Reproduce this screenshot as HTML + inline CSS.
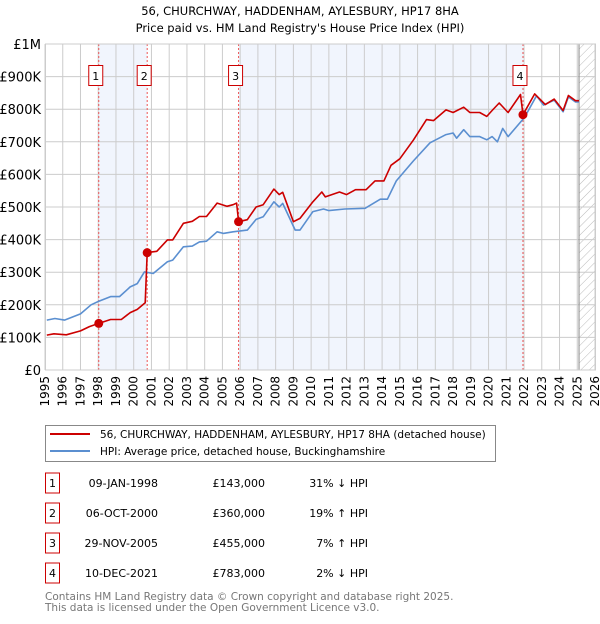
<!DOCTYPE html>
<html><head><meta charset="utf-8"><style>
body{margin:0;background:#fff;font-family:"DejaVu Sans","Liberation Sans",sans-serif;}
svg text{font-family:"DejaVu Sans","Liberation Sans",sans-serif;}
</style></head><body>
<svg id="chart" width="600" height="620" xmlns="http://www.w3.org/2000/svg">
<defs><pattern id="hatch" width="6" height="6" patternUnits="userSpaceOnUse" patternTransform="rotate(45)"><line x1="0" y1="0" x2="0" y2="6" stroke="#bbb" stroke-width="1"/></pattern></defs>
<text x="300" y="15" text-anchor="middle" font-size="11.5">56, CHURCHWAY, HADDENHAM, AYLESBURY, HP17 8HA</text>
<text x="300" y="32" text-anchor="middle" font-size="11.5">Price paid vs. HM Land Registry's House Price Index (HPI)</text>
<g id="plot"></g>
<g>
<rect x="45.5" y="425.5" width="450" height="36" fill="#fff" stroke="#888"/>
<line x1="50" y1="434" x2="90" y2="434" stroke="#cc0000" stroke-width="2"/>
<text x="100" y="438" font-size="10.5">56, CHURCHWAY, HADDENHAM, AYLESBURY, HP17 8HA (detached house)</text>
<line x1="50" y1="451" x2="90" y2="451" stroke="#5b8fd0" stroke-width="2"/>
<text x="100" y="455" font-size="10.5">HPI: Average price, detached house, Buckinghamshire</text>
</g>
<g id="table" font-size="11"></g>
<text x="45" y="600" font-size="10.5" fill="#777">Contains HM Land Registry data © Crown copyright and database right 2025.</text>
<text x="45" y="611" font-size="10.5" fill="#777">This data is licensed under the Open Government Licence v3.0.</text>
</svg>
<script>
const hpiYears=[1995.1,1995.56,1996.1,1997.0,1997.6,1998.0,1998.7,1999.2,1999.8,2000.2,2000.6,2001.1,2001.9,2002.2,2002.8,2003.3,2003.7,2004.1,2004.7,2005.05,2005.6,2006.4,2006.9,2007.3,2007.9,2008.2,2008.4,2009.1,2009.37,2010.1,2010.7,2011.0,2011.9,2013.04,2013.9,2014.3,2014.8,2015.76,2016.7,2017.6,2018.0,2018.2,2018.6,2018.95,2019.5,2019.9,2020.2,2020.5,2020.8,2021.1,2021.9,2022.1,2022.7,2023.1,2023.7,2024.2,2024.5,2024.9,2025.1];
const hpiValues=[153,158,153,172,200,210,225,225,255,265,301,296,332,337,378,380,393,395,424,419,424,429,462,470,516,500,511,429,429,486,494,489,494,496,524,524,580,641,697,722,727,711,737,716,716,706,716,700,741,716,767,782,841,813,828,792,838,822,822];
const priceYears=[1995.1,1995.5,1996.2,1997.0,1997.5,1998.03,1998.7,1999.3,1999.8,2000.2,2000.65,2000.76,2001.3,2001.9,2002.2,2002.8,2003.3,2003.7,2004.1,2004.7,2005.25,2005.6,2005.8,2005.91,2006.4,2006.9,2007.3,2007.9,2008.2,2008.4,2009.0,2009.37,2010.1,2010.6,2010.8,2011.6,2012.0,2012.5,2013.1,2013.6,2014.1,2014.5,2015.0,2015.76,2016.5,2016.9,2017.6,2018.0,2018.6,2018.95,2019.5,2019.9,2020.2,2020.6,2021.1,2021.8,2021.94,2022.6,2023.2,2023.7,2024.2,2024.5,2024.9,2025.1];
const priceValues=[107,111,108,120,133,143,155,155,176,186,206,360,364,399,399,450,456,471,471,512,502,507,512,455,461,500,507,555,538,545,455,465,516,546,531,546,538,553,553,580,580,628,648,705,768,765,798,790,806,790,790,778,796,819,790,845,783,847,814,831,796,842,826,826];
const saleYears=[1998.03,2000.76,2005.91,2021.94];
const saleValues=[143,360,455,783];
const saleLabels=["1","2","3","4"];
const saleDates=["09-JAN-1998","06-OCT-2000","29-NOV-2005","10-DEC-2021"];
const salePrices=["£143,000","£360,000","£455,000","£783,000"];
const saleHpi=["31% ↓ HPI","19% ↑ HPI","7% ↑ HPI","2% ↓ HPI"];
const yTicks=[0,100,200,300,400,500,600,700,800,900,1000];
const yTickLabels=["£0","£100K","£200K","£300K","£400K","£500K","£600K","£700K","£800K","£900K","£1M"];
const xTicks=[1995,1996,1997,1998,1999,2000,2001,2002,2003,2004,2005,2006,2007,2008,2009,2010,2011,2012,2013,2014,2015,2016,2017,2018,2019,2020,2021,2022,2023,2024,2025,2026];

const NS="http://www.w3.org/2000/svg";
const X0=45,X1=595,Y0=370,Y1=44,YR0=1995,YR1=2026;
const xs=y=>X0+(y-YR0)/(YR1-YR0)*(X1-X0);
const ys=v=>Y0-v/1000*(Y0-Y1);
const plot=document.getElementById('plot');
function mk(tag,attrs,parent){const e=document.createElementNS(NS,tag);for(const k in attrs)e.setAttribute(k,attrs[k]);(parent||plot).appendChild(e);return e;}
for(let i=0;i<saleYears.length-1;i+=2){
 const r=mk('rect',{x:xs(saleYears[i]),y:Y1,width:xs(saleYears[i+1])-xs(saleYears[i]),height:Y0-Y1,fill:'#eef3fd',opacity:0.8});
 
 
}
const hatchStart=2025.1;
const hr=mk('rect',{x:xs(hatchStart),y:Y1,width:X1-xs(hatchStart),height:Y0-Y1,fill:'url(#hatch)'});


yTicks.forEach((t,i)=>{
 const l=mk('line',{x1:X0,x2:X1,y1:ys(t),y2:ys(t),stroke:'#ccc','stroke-width':1});
 
 
 const tx=mk('text',{x:X0-4,y:ys(t)+5,'text-anchor':'end','font-size':13});
 tx.textContent=yTickLabels[i];
 
 
});
xTicks.forEach(t=>{
 const l=mk('line',{x1:xs(t),x2:xs(t),y1:Y1,y2:Y0,stroke:'#ccc','stroke-width':1});
 
 
 const tx=mk('text',{x:0,y:0,'text-anchor':'end','font-size':12,transform:`translate(${xs(t)+4},${Y0+6}) rotate(-90)`});
 tx.textContent=t;
 
 
});
const hl=mk('line',{x1:xs(hatchStart),x2:xs(hatchStart),y1:Y1,y2:Y0,stroke:'#888','stroke-width':1});


saleYears.forEach((y,i)=>{
 const l=mk('line',{x1:xs(y),x2:xs(y),y1:Y1,y2:Y0,stroke:'#e55','stroke-width':1,'stroke-dasharray':'2,2'});
 
 
});
function line(xa,va,color,name){
 const d=xa.map((x,i)=>(i?'L':'M')+xs(x).toFixed(1)+','+ys(va[i]).toFixed(1)).join('');
 const p=mk('path',{d:d,fill:'none',stroke:color,'stroke-width':1.6,'stroke-linejoin':'round'});
 
 
}
line(hpiYears,hpiValues,'#5b8fd0','hpi-line');
line(priceYears,priceValues,'#cc0000','price-paid-line');
saleYears.forEach((y,i)=>{
 const c=mk('circle',{cx:xs(y),cy:ys(saleValues[i]),r:4.5,fill:'#cc0000'});
 
 
 const b=mk('rect',{x:xs(y)-10,y:65.5,width:14,height:20,fill:'#fff',stroke:'#cc0000','stroke-width':1});
 
 
 const t=mk('text',{x:xs(y)-3,y:80,'text-anchor':'middle','font-size':11});
 t.textContent=saleLabels[i];
 
 
});
mk('rect',{x:X0+0.5,y:Y1,width:X1-X0,height:Y0-Y1,fill:'none',stroke:'#ccc'});
const tb=document.getElementById('table');
saleLabels.forEach((s,i)=>{
 const cy=483+i*30;
 const b=mk('rect',{x:45.5,y:cy-10,width:14,height:20,fill:'#fff',stroke:'#cc0000'},tb);
 
 
 const t=mk('text',{x:52.5,y:cy+4,'text-anchor':'middle'},tb);t.textContent=s;
 
 
 const d=mk('text',{x:158,y:cy+4,'text-anchor':'end'},tb);d.textContent=saleDates[i];
 
 
 const p=mk('text',{x:265,y:cy+4,'text-anchor':'end'},tb);p.textContent=salePrices[i];
 
 
 const h=mk('text',{x:368,y:cy+4,'text-anchor':'end'},tb);h.textContent=saleHpi[i];
 
 
});
</script>
</body></html>
